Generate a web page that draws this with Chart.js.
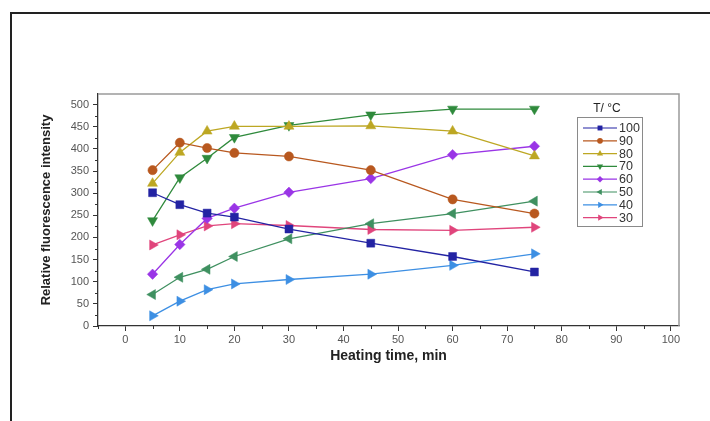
<!DOCTYPE html>
<html>
<head>
<meta charset="utf-8">
<script src="https://cdn.jsdelivr.net/npm/chart.js@4/dist/chart.umd.min.js"></script>
<style>
  html, body { margin: 0; padding: 0; background: #fff; }
  #wrap { position: relative; width: 710px; height: 421px; overflow: hidden; }
  #frame { position: absolute; left: 10px; top: 12px; width: 800px; height: 500px;
           border-left: 2px solid #222; border-top: 2px solid #222; }
  canvas { position: absolute; left: 0; top: 0; }
</style>
</head>
<body>
<div id="wrap">
  <div id="frame"></div>
  <canvas id="c" width="710" height="421"></canvas>
</div>
<script>
// Heating time (min) at which fluorescence was measured
const times = [5, 10, 15, 20, 30, 45, 60, 75];

// Relative fluorescence intensity for each heating temperature (°C)
const t100 = [301, 274, 255, 246, 219, 187, 157, 122];
const t90  = [352, 414, 402, 391, 383, 352, 286, 254];
const t80  = [322, 392, 440, 451, 451, 452, 440, 384];
const t70  = [238, 335, 379, 426, 453, 477, 490, 490];
const t60  = [117, 184, 243, 266, 302, 333, 387, 406];
const t50  = [71, 110, 128, 157, 197, 231, 254, 282];
const t40  = [23, 56, 82, 95, 105, 117, 137, 163];
const t30  = [183, 206, 226, 231, 227, 218, 216, 223];

const seriesLabels = ['100', '90', '80', '70', '60', '50', '40', '30'];
const seriesValues = [t100, t90, t80, t70, t60, t50, t40, t30];
const seriesColors = ['#2323a3', '#b8581f', '#bda723', '#2f8a3c', '#9a35e6', '#3f9060', '#3d8fe3', '#e0457c'];
const seriesShapes = ['rect', 'circle', 'triangle', 'triangle', 'rectRot', 'triangle', 'triangle', 'triangle'];
const seriesRotations = [0, 0, 0, 180, 0, 270, 90, 90];
const seriesRadius = [5.6, 4.6, 5.8, 5.8, 5.2, 5.8, 5.8, 5.8];

const xTicks = [0, 10, 20, 30, 40, 50, 60, 70, 80, 90, 100];
const yTicks = [0, 50, 100, 150, 200, 250, 300, 350, 400, 450, 500];

const datasets = seriesLabels.map((lab, i) => ({
  label: lab,
  data: times.map((t, j) => ({ x: t, y: seriesValues[i][j] })),
  borderColor: seriesColors[i],
  backgroundColor: seriesColors[i],
  borderWidth: 1.3,
  pointStyle: seriesShapes[i],
  rotation: seriesRotations[i],
  pointRadius: seriesRadius[i],
  pointBorderWidth: 0.5,
  tension: 0
}));

// Minor ticks, plot frame and the in-plot legend
const decor = {
  id: 'decor',
  afterDraw(chart) {
    const ctx = chart.ctx;
    const { left, right, top, bottom } = chart.chartArea;
    const xs = chart.scales.x, ys = chart.scales.y;
    ctx.save();
    // top and right frame lines
    ctx.strokeStyle = '#9a9a9a';
    ctx.lineWidth = 1.5;
    ctx.beginPath();
    ctx.moveTo(left, top); ctx.lineTo(right, top); ctx.lineTo(right, bottom);
    ctx.stroke();
    // minor ticks
    ctx.strokeStyle = '#333';
    ctx.lineWidth = 1;
    ctx.beginPath();
    for (let v = -5; v <= 100; v += 10) {
      const px = Math.round(xs.getPixelForValue(v)) + 0.5;
      ctx.moveTo(px, bottom); ctx.lineTo(px, bottom + 3);
    }
    for (let v = 25; v <= 500; v += 50) {
      const py = Math.round(ys.getPixelForValue(v)) + 0.5;
      ctx.moveTo(left, py); ctx.lineTo(left - 3, py);
    }
    ctx.stroke();

    // legend
    const bx = 577, by = 117, bw = 65, bh = 109;
    ctx.fillStyle = '#222';
    ctx.font = '12px "Liberation Sans", Arial, sans-serif';
    ctx.textAlign = 'center';
    ctx.textBaseline = 'middle';
    ctx.fillText('T/ °C', 607, 109);
    ctx.strokeStyle = '#8a8a8a';
    ctx.lineWidth = 1;
    ctx.strokeRect(bx + 0.5, by + 0.5, bw, bh);
    chart.data.datasets.forEach((ds, i) => {
      const y = 128 + i * 12.8;
      ctx.strokeStyle = ds.borderColor;
      ctx.lineWidth = 1.2;
      ctx.beginPath();
      ctx.moveTo(583, y); ctx.lineTo(617, y);
      ctx.stroke();
      ctx.fillStyle = ds.backgroundColor;
      const r = ds.pointRadius * 0.62;
      ctx.save();
      ctx.translate(600, y);
      ctx.rotate(ds.rotation * Math.PI / 180);
      ctx.beginPath();
      if (ds.pointStyle === 'circle') {
        ctx.arc(0, 0, r, 0, Math.PI * 2);
      } else if (ds.pointStyle === 'rect') {
        const s = r * Math.SQRT1_2;
        ctx.rect(-s, -s, 2 * s, 2 * s);
      } else if (ds.pointStyle === 'rectRot') {
        ctx.moveTo(0, -r); ctx.lineTo(r, 0); ctx.lineTo(0, r); ctx.lineTo(-r, 0); ctx.closePath();
      } else {
        ctx.moveTo(0, -r);
        ctx.lineTo(r * Math.sin(Math.PI * 2 / 3), -r * Math.cos(Math.PI * 2 / 3));
        ctx.lineTo(-r * Math.sin(Math.PI * 2 / 3), -r * Math.cos(Math.PI * 2 / 3));
        ctx.closePath();
      }
      ctx.fill();
      ctx.restore();
      ctx.fillStyle = '#333';
      ctx.textAlign = 'left';
      ctx.font = '12.5px "Liberation Sans", Arial, sans-serif';
      ctx.fillText(ds.label, 619, y + 0.5);
    });
    ctx.restore();
  }
};

new Chart(document.getElementById('c'), {
  type: 'line',
  data: { datasets },
  options: {
    responsive: false,
    animation: false,
    layout: { padding: { left: 0, top: 94, right: 31, bottom: 0 } },
    plugins: { legend: { display: false }, tooltip: { enabled: false } },
    scales: {
      x: {
        type: 'linear',
        min: -5,
        max: 101.5,
        afterBuildTicks: s => { s.ticks = xTicks.map(v => ({ value: v })); },
        afterFit: s => { s.height = 95; },
        grid: { drawOnChartArea: false, drawTicks: true, tickLength: 5, tickColor: '#333' },
        border: { display: true, color: '#333', width: 1.3 },
        ticks: { color: '#555', padding: 2, maxRotation: 0, font: { family: '"Liberation Sans", Arial, sans-serif', size: 11 } },
        title: {
          display: true,
          text: 'Heating time, min',
          color: '#222',
          font: { family: '"Liberation Sans", Arial, sans-serif', size: 14, weight: 'bold' },
          padding: { top: 0, bottom: 56 }
        }
      },
      y: {
        type: 'linear',
        min: 0,
        max: 524,
        afterBuildTicks: s => { s.ticks = yTicks.map(v => ({ value: v })); },
        afterFit: s => { s.width = 98; },
        grid: { drawOnChartArea: false, drawTicks: true, tickLength: 5, tickColor: '#333' },
        border: { display: true, color: '#333', width: 1.3 },
        ticks: { color: '#555', padding: 4, font: { family: '"Liberation Sans", Arial, sans-serif', size: 11 } },
        title: {
          display: true,
          text: 'Relative fluorescence intensity',
          color: '#222',
          font: { family: '"Liberation Sans Narrow", "Liberation Sans", Arial, sans-serif', size: 13, weight: 'bold' },
          padding: { top: 39, bottom: 0 }
        }
      }
    }
  },
  plugins: [decor]
});
</script>
</body>
</html>
